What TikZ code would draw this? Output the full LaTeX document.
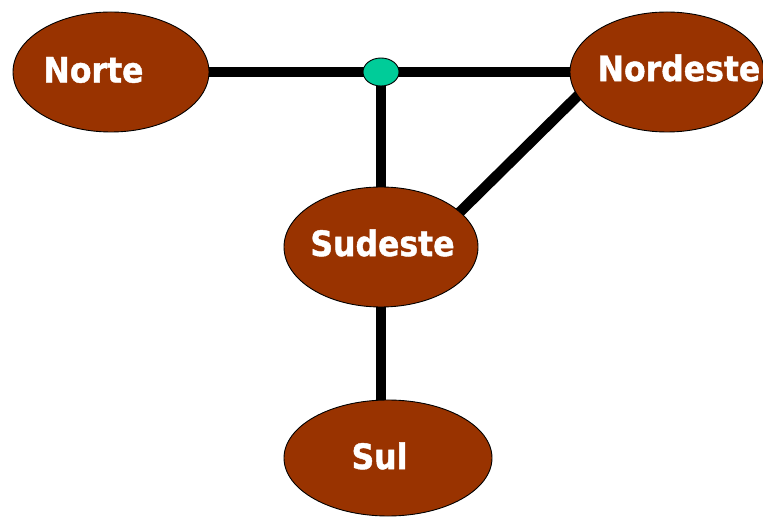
\documentclass[tikz,border=0pt]{standalone}
\usepackage{fontspec}
\newfontfamily\lblfont[FakeStretch=0.9,FakeBold=1.2]{DejaVu Sans Bold}
\usetikzlibrary{shapes.geometric,backgrounds}
\definecolor{region}{HTML}{993300}
\definecolor{junction}{HTML}{00CC99}
\tikzset{
  x=1pt, y=-1pt,
  regionnode/.style={ellipse, draw=black, line width=0.9pt, fill=region, inner sep=0pt},
  regionlabel/.style={inner sep=0pt, text=white, font=\lblfont\fontsize{35}{38}\selectfont},
  junctionnode/.style={ellipse, draw=black, line width=0.9pt, fill=junction, inner sep=0pt,
    minimum width=36pt, minimum height=28pt},
  link/.style={draw=black, line width=10.5pt}
}
\begin{document}
\begin{tikzpicture}
\useasboundingbox (0,0) rectangle (763,518);

% regions
\node[regionnode, minimum width=196pt, minimum height=120pt] (norte) at (111,72) {};
\node[regionnode, minimum width=194pt, minimum height=120pt] (nordeste) at (667,72) {};
\node[regionnode, minimum width=194pt, minimum height=120pt] (sudeste) at (381,247) {};
\node[regionnode, minimum width=208pt, minimum height=116pt] (sul) at (388,458) {};
\node[junctionnode] (dot) at (381,72) {};

% region names
\node[regionlabel] (norteT) at (93.5,70) {Norte};
\node[regionlabel] (nordesteT) at (679,68) {Nordeste};
\node[regionlabel] (sudesteT) at (382.5,243) {Sudeste};
\node[regionlabel] (sulT) at (379.5,456) {Sul};

% connections, behind the regions
\begin{scope}[on background layer]
  \fill[white] (0,0) rectangle (763,518);
  \draw[link] (norte.center) -- (nordeste.center);
  \draw[link] (dot.center) -- (sudeste.center);
  \draw[link] (sudeste.center) -- (sudeste.center |- sul.center);
  \draw[link, shorten <=-8pt, shorten >=-8pt] (sudeste.24) -- (nordeste.195);
\end{scope}
\end{tikzpicture}
\end{document}
